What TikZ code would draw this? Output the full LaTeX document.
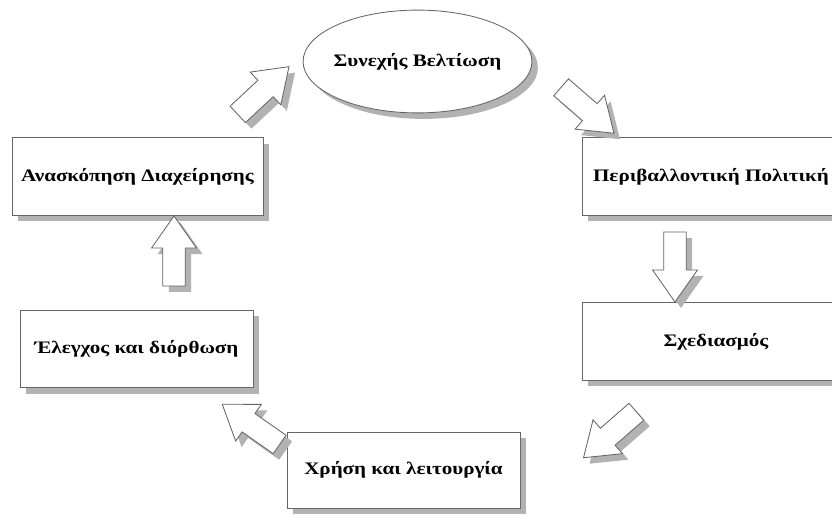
\documentclass[tikz,border=0pt]{standalone}
\usepackage{fontspec}
\setmainfont[FakeStretch=1.2]{Liberation Serif}
\usetikzlibrary{shapes.geometric,shapes.arrows,shadows}

\begin{document}
\begin{tikzpicture}[x=0.025cm, y=-0.025cm,
   shade/.style={drop shadow={shadow xshift=0.15cm, shadow yshift=-0.15cm, fill=black!30, opacity=1}},
   stage/.style={draw=black!60, fill=white, line width=0.6pt, minimum height=1.93cm,
     font=\bfseries\fontsize{12.5}{14}\selectfont, shade},
   fatarrow/.style={single arrow, draw=black!60, fill=white, line width=0.6pt,
     inner xsep=0pt, inner ysep=0.27cm, minimum height=1.75cm,
     single arrow head extend=0.28cm, single arrow tip angle=70, shade}]
   \useasboundingbox (0,0) rectangle (832,518);
   \node[ellipse, draw=black!60, fill=white, line width=0.6pt, inner xsep=-0.5cm,
     minimum width=5.72cm, minimum height=2.57cm,
     font=\bfseries\fontsize{12.5}{14}\selectfont, shade] (improve) at (417.5,61.5) {Συνεχής Βελτίωση};
   \node[stage, minimum width=6.27cm] (review) at (137.5,176.5) {Ανασκόπηση Διαχείρησης};
   \node[stage, minimum width=6.45cm] (policy) at (711,176.5) {Περιβαλλοντική Πολιτική};
   \node[stage, minimum width=6.7cm] (plan) at (716,341.5) {Σχεδιασμός};
   \node[stage, minimum width=5.82cm] (check) at (136.5,349) {Έλεγχος και διόρθωση};
   \node[stage, minimum width=5.82cm, minimum height=1.9cm] (operate) at (403.5,470) {Χρήση και λειτουργία};
   % block arrows round the cycle
   \node[fatarrow, rotate=43] (a1) at (257.5,96) {};
   \node[fatarrow, rotate=-41] (a2) at (581.5,105) {};
   \node[fatarrow, rotate=-90] (a3) at (675,259) {};
   \node[fatarrow, rotate=221] (a4) at (616,429.5) {};
   \node[fatarrow, rotate=145] (a5) at (257.5,429) {};
   \node[fatarrow, rotate=90] (a6) at (174,259) {};
\end{tikzpicture}
\end{document}
